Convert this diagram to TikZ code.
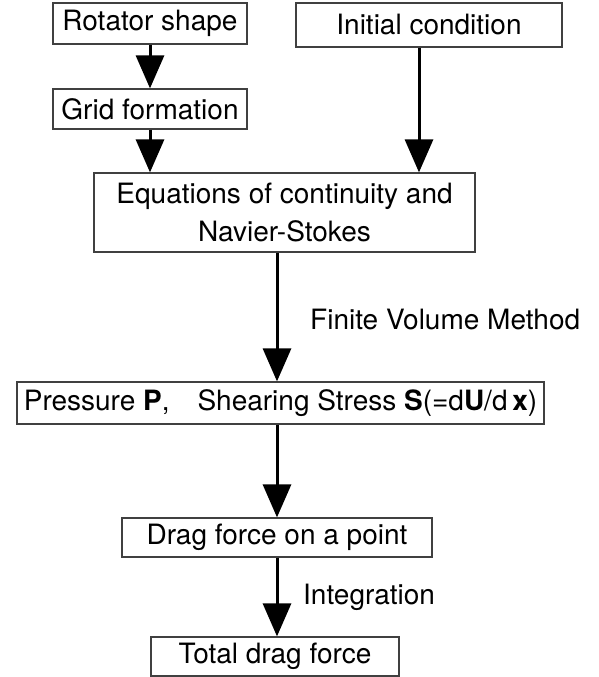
\documentclass[tikz,border=0pt]{standalone}
\usepackage{fontspec}
\setmainfont{TeX Gyre Heros}
\usetikzlibrary{arrows.meta,positioning}

\begin{document}
\begin{tikzpicture}[x=1pt,y=-1pt,
  box/.style={draw=black!75,line width=1.2pt,inner sep=0pt,align=center,font=\fontsize{28}{38}\selectfont},
  arr/.style={-{Triangle[width=28pt,length=33pt]},line width=3pt},
  lbl/.style={anchor=west,inner sep=0pt,font=\fontsize{28}{38}\selectfont}]
\useasboundingbox (0,0) rectangle (599,677);
\node[box,minimum width=194pt,minimum height=41pt] (rot) at (150,23.5) {Rotator shape};
\node[box,minimum width=266pt,minimum height=44pt] (init) at (429,25) {Initial condition};
\node[box,minimum width=194pt,minimum height=40pt] (grid) at (150,109) {Grid formation};
\node[box,minimum width=381pt,minimum height=79pt] (eq) at (284.5,212.5) {Equations of continuity and\\Navier-Stokes};
\node[box,minimum width=527pt,minimum height=42pt] (pres) at (280.5,403) {Pressure \textbf{P},\quad Shearing Stress \textbf{S}(=d\textbf{U}/d\,\textbf{x})};
\node[box,minimum width=310pt,minimum height=39pt] (drag) at (277,537.5) {Drag force on a point};
\node[box,minimum width=248pt,minimum height=39pt] (total) at (275,656.5) {Total drag force};
\node[lbl] (fvm) at (310,320) {Finite Volume Method};
\node[lbl] (integ) at (303,597) {Integration};
\draw[arr] (rot.south) -- (grid.north);
\draw[arr] (grid.south) -- (grid.south |- eq.north);
\draw[arr] ([xshift=-10pt]init.south) -- ([xshift=-10pt]init.south |- eq.north);
\draw[arr] (eq.south -| drag) -- (pres.north -| drag);
\draw[arr] (pres.south -| drag) -- (drag.north);
\draw[arr] (drag.south) -- (drag.south |- total.north);
\end{tikzpicture}
\end{document}
